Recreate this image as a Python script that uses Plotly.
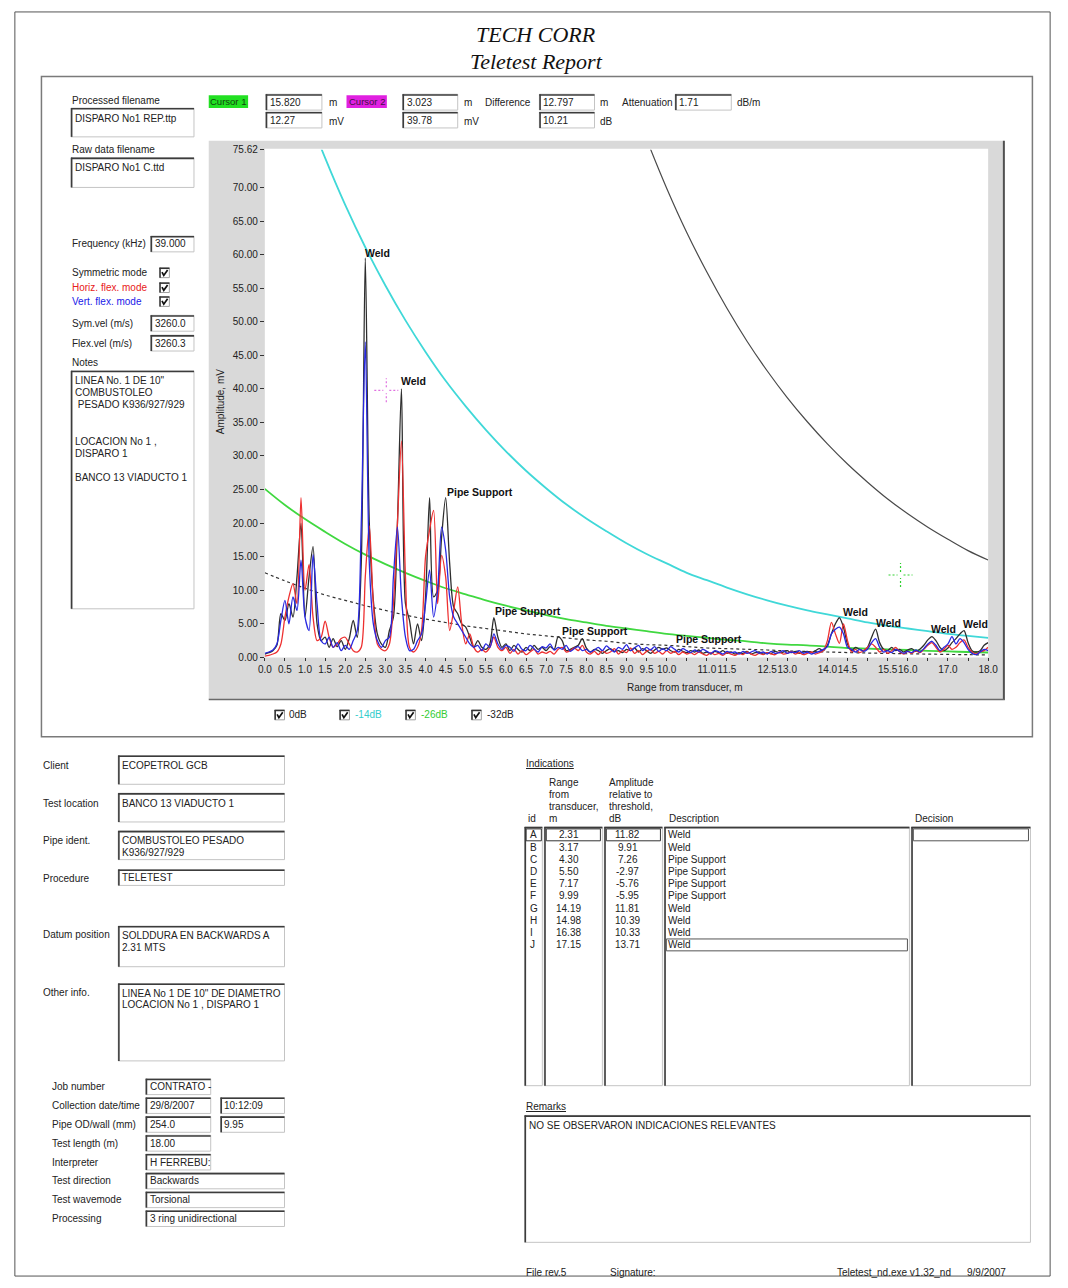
import plotly.graph_objects as go

W, H = 1068, 1288
FONT = "Liberation Sans, Arial, sans-serif"
SERIF = "Liberation Serif, Times New Roman, serif"

# ---------------- data ----------------
DIST_M = [round(i * 0.1, 1) for i in range(181)]  # sampling grid, 0.0 .. 18.0 m

SYM_MV = [
    0.5, 0.7, 1.0, 1.8, 6.5, 5.5, 8.0, 6.0, 12.0, 20.0,
    6.0, 12.0, 16.5, 5.0, 2.5, 3.0, 1.5, 2.8, 1.6, 2.5,
    1.2, 2.8, 5.5, 3.0, 14.0, 59.5, 20.0, 8.5, 3.5, 2.0,
    1.5, 4.0, 6.0, 20.0, 40.0, 8.0, 5.5, 2.0, 5.0, 2.5,
    9.0, 23.8, 9.0, 10.0, 18.0, 23.8, 14.0, 7.5, 6.5, 5.0,
    4.5, 3.0, 1.5, 2.5, 1.5, 1.2, 2.0, 5.9, 3.0, 1.5,
    2.0, 1.0, 1.8, 1.2, 0.8, 1.5, 1.0, 1.8, 1.2, 1.5,
    1.0, 1.6, 1.2, 3.1, 2.5, 1.0, 1.2, 1.5, 1.8, 2.8,
    1.4, 0.8, 1.2, 1.0, 0.6, 1.0, 1.3, 0.9, 1.0, 0.7,
    1.2, 1.0, 1.4, 0.8, 1.3, 1.0, 0.6, 1.1, 1.5, 1.2,
    1.4, 1.0, 0.8, 1.2, 0.9, 0.7, 1.0, 0.8, 1.1, 0.6,
    0.8, 0.5, 0.9, 0.7, 1.0, 0.6, 0.8, 0.5, 0.7, 0.6,
    0.9, 0.5, 0.7, 0.8, 0.5, 0.7, 0.6, 0.9, 0.7, 0.8,
    1.0, 0.7, 0.9, 0.6, 0.8, 0.9, 0.7, 1.0, 1.3, 1.0,
    1.8, 3.5, 5.0, 5.9, 4.5, 2.0, 1.0, 1.5, 1.2, 1.0,
    1.5, 3.0, 4.2, 2.2, 1.2, 1.0, 1.5, 1.0, 1.2, 0.8,
    1.1, 1.3, 0.9, 1.2, 1.8, 2.6, 3.1, 2.5, 1.5, 1.0,
    1.4, 2.2, 2.8, 3.5, 4.0, 2.2, 1.0, 0.8, 1.0, 1.8,
    2.2]

HORIZ_MV = [
    0.2, 0.3, 0.5, 0.8, 2.0, 6.0, 9.0, 11.0, 8.0, 23.8,
    10.0, 13.8, 6.0, 2.5, 3.0, 5.4, 3.0, 1.5, 2.0, 2.8,
    3.0, 2.0, 1.0, 0.8, 1.5, 12.0, 19.6, 8.0, 2.0, 1.2,
    1.0, 2.0, 8.0, 20.0, 32.2, 12.0, 1.5, 0.8, 1.5, 4.0,
    15.0, 19.0, 21.9, 8.0, 15.2, 12.0, 4.0, 7.0, 10.5, 5.0,
    2.0, 3.5, 1.5, 0.8, 1.2, 0.8, 1.5, 3.0, 1.5, 1.0,
    1.5, 0.6, 1.2, 0.5, 1.0, 0.4, 0.8, 1.2, 0.5, 0.8,
    0.6, 0.9, 0.5, 1.2, 1.5, 0.8, 1.0, 1.4, 1.0, 1.8,
    0.8, 0.5, 0.9, 0.4, 1.0, 0.6, 0.8, 1.3, 0.5, 1.0,
    0.7, 1.4, 0.6, 1.0, 0.4, 0.9, 1.2, 0.6, 0.9, 0.5,
    1.0, 0.6, 0.9, 0.4, 0.8, 0.5, 0.7, 0.4, 0.8, 0.5,
    0.3, 0.7, 0.4, 0.6, 0.3, 0.7, 0.5, 0.3, 0.6, 0.4,
    0.8, 0.5, 0.3, 0.6, 0.4, 0.7, 0.5, 0.4, 0.8, 0.5,
    0.6, 0.9, 0.5, 0.7, 0.4, 0.6, 0.8, 0.5, 0.7, 1.0,
    2.5, 5.2, 3.5, 2.1, 5.0, 2.5, 0.8, 1.2, 0.7, 1.0,
    1.5, 2.0, 1.5, 0.8, 1.2, 0.6, 1.0, 1.5, 0.8, 0.5,
    0.9, 0.6, 1.0, 0.7, 1.2, 1.8, 2.2, 1.5, 0.8, 1.2,
    1.8, 1.2, 1.5, 2.2, 2.6, 1.5, 0.8, 0.5, 0.8, 1.0,
    1.5]

VERT_MV = [
    0.6, 0.8, 1.1, 2.0, 5.5, 8.5, 5.0, 9.0, 7.0, 14.5,
    6.0, 4.0, 15.3, 8.0, 2.5, 2.0, 3.0, 1.5, 2.2, 1.0,
    1.8, 1.2, 2.5, 4.0, 20.0, 47.0, 14.0, 5.0, 2.5, 1.5,
    2.5, 3.0, 12.0, 19.4, 9.0, 3.0, 1.0, 1.2, 2.5, 3.5,
    8.0, 13.0, 6.0, 10.0, 19.4, 16.0, 9.0, 6.0, 5.0, 4.0,
    3.0, 2.0, 1.5, 1.8, 1.0, 2.0, 1.5, 3.5, 2.0, 1.2,
    1.8, 1.5, 0.9, 2.0, 1.2, 1.0, 1.8, 1.3, 0.8, 1.6,
    1.4, 2.0, 1.1, 1.5, 1.2, 1.8, 0.9, 1.3, 1.6, 1.0,
    1.2, 0.8, 1.1, 1.5, 1.0, 1.7, 1.2, 0.8, 1.5, 1.2,
    1.9, 1.0, 1.4, 1.8, 1.0, 1.5, 1.1, 1.6, 0.9, 1.3,
    1.0, 1.6, 1.2, 0.8, 1.3, 1.0, 0.7, 1.1, 0.8, 1.2,
    0.9, 0.6, 1.0, 0.8, 0.5, 0.9, 0.7, 0.8, 0.5, 0.9,
    0.6, 0.8, 1.0, 0.6, 0.8, 0.5, 0.9, 0.6, 0.7, 1.0,
    0.6, 0.8, 0.7, 1.0, 0.6, 0.8, 0.5, 0.7, 0.9, 1.2,
    1.6, 3.5, 4.2, 4.5, 3.5, 1.5, 1.2, 0.8, 1.2, 0.9,
    1.2, 2.2, 2.8, 1.5, 0.8, 1.0, 0.7, 1.2, 0.9, 0.6,
    0.9, 0.7, 1.1, 0.8, 1.3, 2.0, 2.4, 1.8, 1.0, 1.5,
    2.0, 3.1, 2.0, 2.8, 2.2, 1.2, 0.6, 0.4, 0.8, 1.2,
    1.0]

DAC_X = [0.0, 0.5, 1.0, 1.5, 2.0, 2.5, 3.0, 3.5, 4.0, 4.5, 5.0, 5.5, 6.0, 6.5,
         7.0, 7.5, 8.0, 8.5, 9.0, 9.5, 10.0, 10.5, 11.0, 11.5, 12.0, 12.5, 13.0,
         13.5, 14.0, 14.5, 15.0, 15.5, 16.0, 16.5, 17.0, 17.5, 18.0]
DAC_0DB = [501, 454, 411, 373, 338, 306, 277, 251, 228, 206, 187, 170, 154, 139,
           126, 114, 104, 94, 85.1, 77.2, 69.9, 63.3, 57.4, 52.0, 47.1, 42.7, 38.7,
           35.1, 31.8, 28.8, 26.1, 23.6, 21.4, 19.4, 17.6, 15.9, 14.5]
DAC_14DB = [100, 90.6, 82.1, 74.4, 67.4, 61.1, 55.4, 50.2, 45.5, 41.2, 37.4, 33.9,
            30.7, 27.8, 25.2, 22.8, 20.7, 18.8, 17.0, 15.4, 14.0, 12.6, 11.5, 10.4,
            9.4, 8.5, 7.7, 7.0, 6.4, 5.8, 5.2, 4.7, 4.3, 3.9, 3.5, 3.2, 2.9]
DAC_26DB = [25.1, 22.7, 20.6, 18.7, 16.9, 15.3, 13.9, 12.6, 11.4, 10.3, 9.4, 8.5,
            7.7, 7.0, 6.3, 5.7, 5.2, 4.7, 4.3, 3.9, 3.5, 3.2, 2.9, 2.6, 2.4, 2.1,
            1.9, 1.8, 1.6, 1.4, 1.3, 1.2, 1.1, 0.97, 0.88, 0.80, 0.73]
DAC_32DB = [12.6, 11.4, 10.3, 9.3, 8.5, 7.7, 7.0, 6.3, 5.7, 5.2, 4.7, 4.3, 3.9,
            3.5, 3.2, 2.9, 2.6, 2.4, 2.1, 1.9, 1.8, 1.6, 1.4, 1.3, 1.2, 1.1, 0.97,
            0.88, 0.80, 0.72, 0.65, 0.59, 0.54, 0.49, 0.44, 0.40, 0.36]

PEAK_TEXT = ["Weld", "Weld", "Pipe Support", "Pipe Support", "Pipe Support",
             "Pipe Support", "Weld", "Weld", "Weld", "Weld"]
PEAK_X = [2.48, 3.36, 4.51, 5.70, 7.38, 10.20, 14.36, 15.18, 16.56, 17.34]
PEAK_Y = [60.2, 41.2, 24.7, 6.85, 3.9, 2.76, 6.7, 5.1, 4.2, 5.0]

CURSOR_X = [15.820, 3.023]
CURSOR_Y = [12.27, 39.78]

X_TICKS = [0.0, 0.5, 1.0, 1.5, 2.0, 2.5, 3.0, 3.5, 4.0, 4.5, 5.0, 5.5, 6.0, 6.5,
           7.0, 7.5, 8.0, 8.5, 9.0, 9.5, 10.0, 10.5, 11.0, 11.5, 12.0, 12.5,
           13.0, 13.5, 14.0, 14.5, 15.0, 15.5, 16.0, 16.5, 17.0, 17.5, 18.0]
X_HIDDEN = [10.5, 12.0, 13.5, 15.0, 16.5, 17.5]
Y_TICKS = [0, 5, 10, 15, 20, 25, 30, 35, 40, 45, 50, 55, 60, 65, 70, 75.62]

IND_ID = ["A", "B", "C", "D", "E", "F", "G", "H", "I", "J"]
IND_RANGE = ["2.31", "3.17", "4.30", "5.50", "7.17", "9.99", "14.19", "14.98", "16.38", "17.15"]
IND_AMP = ["11.82", "9.91", "7.26", "-2.97", "-5.76", "-5.95", "11.81", "10.39", "10.33", "13.71"]
IND_DESC = ["Weld", "Weld", "Pipe Support", "Pipe Support", "Pipe Support",
            "Pipe Support", "Weld", "Weld", "Weld", "Weld"]

# ---------------- helpers ----------------
def X(p):
    return p / W


def Y(p):
    return 1 - p / H


shapes, annos = [], []


def rect(x0, y0, x1, y1, fill="rgba(0,0,0,0)", line="rgba(0,0,0,0)", lw=0):
    shapes.append(dict(type="rect", xref="paper", yref="paper",
                       x0=X(x0), x1=X(x1), y0=Y(y1), y1=Y(y0),
                       fillcolor=fill, line=dict(color=line, width=lw), layer="below"))


def seg(x0, y0, x1, y1, color="#000", lw=1):
    shapes.append(dict(type="line", xref="paper", yref="paper",
                       x0=X(x0), x1=X(x1), y0=Y(y0), y1=Y(y1),
                       line=dict(color=color, width=lw), layer="below"))


def txt(x, y, s, size=10, color="#222", xa="left", family=FONT, angle=0):
    annos.append(dict(xref="paper", yref="paper", x=X(x), y=Y(y), text=s,
                      showarrow=False, xanchor=xa, yanchor="middle", textangle=angle,
                      font=dict(size=size, color=color, family=family), borderpad=0))


def tbox(x0, y0, x1, y1, lines=(), size=10, lh=12.0):
    rect(x0, y0, x1, y1, fill="white", line="#c4c4c4", lw=1)
    seg(x0, y0 + 0.7, x1, y0 + 0.7, "#3c3c3c", 1.6)
    seg(x0 + 0.7, y0, x0 + 0.7, y1, "#3c3c3c", 1.6)
    first = (y0 + y1) / 2 if (y1 - y0) <= 18 else y0 + 10
    for i, s in enumerate(lines):
        txt(x0 + 3, first + i * lh, s, size)


def checkbox(x, y):
    rect(x, y, x + 10, y + 10, fill="white", line="#a0a0a0", lw=1)
    seg(x, y + 0.6, x + 10, y + 0.6, "#333", 1.4)
    seg(x + 0.6, y, x + 0.6, y + 10, "#333", 1.4)
    shapes.append(dict(type="path", xref="paper", yref="paper",
                       path=f"M {X(x+2.5)},{Y(y+4.5)} L {X(x+4.3)},{Y(y+7.8)} L {X(x+8.2)},{Y(y+2.3)}",
                       line=dict(color="#111", width=1.7), layer="below"))


# ---------------- page furniture ----------------
rect(8, 7, 1060, 1282, line="#555", lw=1)
txt(538, 30, "<i>TECH CORR</i>", size=22, color="#111", xa="center", family=SERIF)
txt(538, 57, "<i>Teletest Report</i>", size=22, color="#111", xa="center", family=SERIF)

# chart frame
rect(35, 72, 1042, 738, line="#7a7a7a", lw=1.5)

# top row
txt(65, 96, "Processed filename")
tbox(65, 104, 190, 133, ["DISPARO No1 REP.ttp"])
rect(205, 91, 245, 104, fill="#22e022")
txt(225, 97.5, "Cursor 1", size=9.5, color="#114411", xa="center")
tbox(263, 90, 320, 106, ["15.820"])
tbox(263, 108, 320, 124, ["12.27"])
txt(326, 98, "m")
txt(326, 117, "mV")
rect(345, 91, 386, 104, fill="#e020e0")
txt(365.5, 97.5, "Cursor 2", size=9.5, color="#441144", xa="center")
tbox(402, 90, 458, 106, ["3.023"])
tbox(402, 108, 458, 124, ["39.78"])
txt(463, 98, "m")
txt(463, 117, "mV")
txt(485, 98, "Difference")
tbox(541, 90, 597, 106, ["12.797"])
tbox(541, 108, 597, 124, ["10.21"])
txt(602, 98, "m")
txt(602, 117, "dB")
txt(624, 98, "Attenuation")
tbox(679, 90, 736, 106, ["1.71"])
txt(741, 98, "dB/m")

# left panel
txt(65, 146, "Raw data filename")
tbox(65, 154, 190, 184, ["DISPARO No1 C.ttd"])
txt(65, 241, "Frequency (kHz)")
tbox(146, 233, 190, 249, ["39.000"])
txt(65, 270, "Symmetric mode")
txt(65, 285, "Horiz. flex. mode", color="#e82020")
txt(65, 299, "Vert. flex. mode", color="#2020e8")
checkbox(155, 265)
checkbox(155, 280)
checkbox(155, 294)
txt(65, 321, "Sym.vel (m/s)")
tbox(146, 313, 190, 329, ["3260.0"])
txt(65, 341, "Flex.vel (m/s)")
tbox(146, 333, 190, 349, ["3260.3"])
txt(65, 361, "Notes")
tbox(65, 369, 190, 609, ["LINEA No. 1 DE 10\"", "COMBUSTOLEO", "\u00a0PESADO K936/927/929",
                         "", "", "LOCACION No 1 ,", "DISPARO 1", "", "BANCO 13 VIADUCTO 1"],
     lh=12.2)

# chart panel
rect(205, 137, 1013, 700, fill="#d9d9d9")
seg(1013, 137, 1013, 701, "#505050", 2)
seg(205, 700.5, 1014, 700.5, "#6a6a6a", 1.5)
rect(262, 145, 997, 658, fill="white")
txt(629, 688, "Range from transducer, m")
txt(217, 400, "Amplitude, mV", angle=-90, xa="center")

# legend checkboxes
for cx, lx, lab, col in [(272, 286, "0dB", "#222"), (338, 353, "-14dB", "#33cccc"),
                         (405, 420, "-26dB", "#33cc33"), (472, 487, "-32dB", "#222")]:
    checkbox(cx, 711)
    txt(lx, 716, lab, color=col)

# lower-left form
txt(36, 767, "Client")
tbox(113, 757, 282, 786, ["ECOPETROL GCB"])
txt(36, 805, "Test location")
tbox(113, 795, 282, 824, ["BANCO 13 VIADUCTO 1"])
txt(36, 843, "Pipe ident.")
tbox(113, 833, 282, 862, ["COMBUSTOLEO PESADO", "K936/927/929"], lh=11.5)
txt(36, 881, "Procedure")
tbox(113, 872, 282, 888, ["TELETEST"])
txt(36, 938, "Datum position")
tbox(113, 929, 282, 970, ["SOLDDURA EN BACKWARDS A", "2.31 MTS"], lh=11.5)
txt(36, 996, "Other info.")
tbox(113, 987, 282, 1065, ["LINEA No 1 DE 10\" DE DIAMETRO", "LOCACION No 1 , DISPARO 1"], lh=11.5)

rows = [("Job number", [(141, 207, "CONTRATO -")]),
        ("Collection date/time", [(141, 207, "29/8/2007"), (217, 282, "10:12:09")]),
        ("Pipe OD/wall (mm)", [(141, 207, "254.0"), (217, 282, "9.95")]),
        ("Test length (m)", [(141, 207, "18.00")]),
        ("Interpreter", [(141, 207, "H FERREBU:")]),
        ("Test direction", [(141, 282, "Backwards")]),
        ("Test wavemode", [(141, 282, "Torsional")]),
        ("Processing", [(141, 282, "3 ring unidirectional")])]
for i, (lab, boxes) in enumerate(rows):
    yc = 1091 + i * 19
    txt(45, yc, lab)
    for bx0, bx1, val in boxes:
        tbox(bx0, yc - 8, bx1, yc + 8, [val])

# indications table
txt(526, 765, "<u>Indications</u>")
for j, s in enumerate(["Range", "from", "transducer,", "m"]):
    txt(550, 784 + j * 12.3, s)
for j, s in enumerate(["Amplitude", "relative to", "threshold,", "dB"]):
    txt(611, 784 + j * 12.3, s)
txt(528, 821, "id")
txt(672, 821, "Description")
txt(922, 821, "Decision")
for x0, x1 in [(526, 544), (546, 605), (607, 666), (668, 917), (919, 1040)]:
    tbox(x0, 829, x1, 1090)
# selection outlines
rect(527.5, 831, 543, 843, line="#333", lw=1)
rect(548, 831, 603, 843, line="#333", lw=1)
rect(609, 831, 664, 843, line="#333", lw=1)
rect(921, 831, 1038, 843, line="#555", lw=1)
rect(670, 942, 915, 954, line="#555", lw=1)
for i in range(len(IND_ID)):
    yc = 837 + i * 12.3
    txt(530, yc, IND_ID[i])
    txt(571, yc, IND_RANGE[i], xa="center")
    txt(631, yc, IND_AMP[i], xa="center")
    txt(671, yc, IND_DESC[i])

# remarks
txt(526, 1111, "<u>Remarks</u>")
tbox(526, 1120, 1040, 1248, [])
txt(529, 1130, "NO SE OBSERVARON INDICACIONES RELEVANTES")

# footer
txt(526, 1278, "File rev.5")
txt(612, 1278, "Signature:")
txt(842, 1278, "Teletest_nd.exe v1.32_nd")
txt(975, 1278, "9/9/2007")

# ---------------- chart traces ----------------
fig = go.Figure()
fig.add_trace(go.Scatter(x=DAC_X, y=DAC_0DB, mode="lines", line=dict(color="#4a4a4a", width=1.2, shape="spline"), hoverinfo="skip"))
fig.add_trace(go.Scatter(x=DAC_X, y=DAC_14DB, mode="lines", line=dict(color="#40d8d8", width=1.8, shape="spline"), hoverinfo="skip"))
fig.add_trace(go.Scatter(x=DAC_X, y=DAC_26DB, mode="lines", line=dict(color="#40d840", width=1.8, shape="spline"), hoverinfo="skip"))
fig.add_trace(go.Scatter(x=DAC_X, y=DAC_32DB, mode="lines", line=dict(color="#333333", width=1.2, dash="3px,3px", shape="spline"), hoverinfo="skip"))
fig.add_trace(go.Scatter(x=DIST_M, y=SYM_MV, mode="lines", line=dict(color="#2e2e2e", width=1.3, shape="spline", smoothing=0.8), hoverinfo="skip"))
fig.add_trace(go.Scatter(x=DIST_M, y=HORIZ_MV, mode="lines", line=dict(color="#ee3030", width=1.3, shape="spline", smoothing=0.8), hoverinfo="skip"))
fig.add_trace(go.Scatter(x=DIST_M, y=VERT_MV, mode="lines", line=dict(color="#2828e0", width=1.3, shape="spline", smoothing=0.8), hoverinfo="skip"))

for tx, xx, yy in zip(PEAK_TEXT, PEAK_X, PEAK_Y):
    annos.append(dict(xref="x", yref="y", x=xx, y=yy, text=f"<b>{tx}</b>", showarrow=False,
                      xanchor="left", yanchor="middle", borderpad=0,
                      font=dict(size=10.5, color="#111", family=FONT)))

# cursors (dashed cross-hairs with open centre)
for cx, cy, col in zip(CURSOR_X, CURSOR_Y, ["#30d030", "#e070e0"]):
    for (a0, a1, b0, b1) in [(-12, -3, 0, 0), (3, 12, 0, 0), (0, 0, -12, -3), (0, 0, 3, 12)]:
        shapes.append(dict(type="line", xref="x", yref="y", xsizemode="pixel", ysizemode="pixel",
                           xanchor=cx, yanchor=cy, x0=a0, x1=a1, y0=b0, y1=b1,
                           line=dict(color=col, width=1.2, dash="2px,2px"), layer="above"))

x_text = ["" if v in X_HIDDEN else f"{v:.1f}" for v in X_TICKS]
y_text = [f"{v:.2f}" for v in Y_TICKS]

fig.update_layout(
    width=W, height=H, autosize=False,
    margin=dict(l=0, r=0, t=0, b=0),
    paper_bgcolor="white", plot_bgcolor="rgba(0,0,0,0)",
    showlegend=False,
    shapes=shapes, annotations=annos,
    xaxis=dict(domain=[X(262), X(997)], range=[0, 18], tickmode="array",
               tickvals=X_TICKS, ticktext=x_text, tickangle=0,
               ticks="outside", ticklen=3, tickcolor="#333", showgrid=False,
               zeroline=False, showline=False, fixedrange=True,
               tickfont=dict(size=10, family=FONT, color="#222")),
    yaxis=dict(domain=[Y(658), Y(146)], range=[0, 75.62], tickmode="array",
               tickvals=Y_TICKS, ticktext=y_text,
               ticks="outside", ticklen=4, tickcolor="#333", showgrid=False,
               zeroline=False, showline=False, fixedrange=True,
               tickfont=dict(size=10, family=FONT, color="#222")),
)

fig.write_html("out.html", config={"displayModeBar": False},
               post_script="document.body.style.margin='0';document.body.style.overflow='hidden';")
